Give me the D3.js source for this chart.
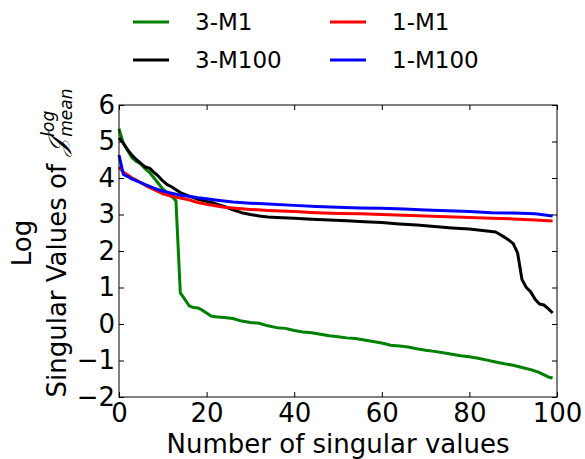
<!DOCTYPE html>
<html>
<head>
<meta charset="utf-8">
<script src="https://cdn.jsdelivr.net/npm/d3@7"></script>
<style>
  body { margin: 0; background: #fff; }
  text { font-family: "DejaVu Sans", sans-serif; }
</style>
</head>
<body>
<div id="chart"></div>
<script>
// Singular values (log), [index, value]
const green3M1 = [
  [0, 5.35], [1, 4.95], [2, 4.75], [3, 4.55], [4, 4.45], [5, 4.38], [6, 4.25],
  [7, 4.15], [8, 4.0], [9, 3.85], [10, 3.7], [11, 3.6], [12, 3.5], [13, 3.38],
  [14, 0.85], [15, 0.68], [16, 0.5], [17, 0.45], [18, 0.44], [19, 0.38],
  [20, 0.3], [21, 0.22], [22, 0.2], [24, 0.18], [26, 0.15], [28, 0.08],
  [30, 0.04], [32, 0.02], [34, -0.05], [36, -0.1], [38, -0.12], [40, -0.18],
  [42, -0.22], [44, -0.24], [46, -0.28], [48, -0.32], [50, -0.35], [52, -0.38],
  [54, -0.4], [56, -0.44], [58, -0.48], [60, -0.52], [62, -0.58], [64, -0.6],
  [66, -0.63], [68, -0.68], [70, -0.72], [72, -0.75], [74, -0.79], [76, -0.83],
  [78, -0.87], [80, -0.9], [82, -0.94], [84, -0.99], [86, -1.04], [88, -1.09],
  [90, -1.13], [92, -1.19], [94, -1.25], [96, -1.33], [98, -1.45], [99, -1.48]
];
const black3M100 = [
  [0, 5.1], [1, 4.95], [2, 4.77], [3, 4.62], [4, 4.5], [5, 4.4], [6, 4.3],
  [7, 4.27], [8, 4.15], [9, 4.05], [10, 3.92], [11, 3.82], [12, 3.76],
  [13, 3.68], [14, 3.6], [15, 3.55], [16, 3.5], [18, 3.42], [20, 3.36],
  [22, 3.3], [24, 3.22], [26, 3.13], [28, 3.05], [30, 3.0], [32, 2.96],
  [34, 2.93], [36, 2.92], [40, 2.9], [44, 2.87], [48, 2.85], [52, 2.83],
  [56, 2.8], [60, 2.78], [64, 2.74], [68, 2.71], [72, 2.67], [76, 2.63],
  [80, 2.6], [84, 2.55], [86, 2.52], [87, 2.45], [88, 2.38], [89, 2.3],
  [90, 2.2], [91, 1.95], [92, 1.22], [93, 1.0], [94, 0.88], [95, 0.68],
  [96, 0.55], [97, 0.52], [98, 0.42], [99, 0.3]
];
const red1M1 = [
  [0, 4.3], [1, 4.16], [2, 4.08], [3, 4.0], [4, 3.94], [6, 3.8], [8, 3.68],
  [10, 3.57], [12, 3.5], [14, 3.45], [16, 3.4], [18, 3.33], [20, 3.28],
  [22, 3.24], [24, 3.2], [26, 3.18], [30, 3.14], [34, 3.11], [40, 3.08],
  [45, 3.05], [50, 3.03], [55, 3.02], [60, 3.0], [65, 2.98], [70, 2.96],
  [75, 2.94], [80, 2.92], [85, 2.9], [90, 2.88], [95, 2.85], [99, 2.82]
];
const blue1M100 = [
  [0, 4.63], [1, 4.1], [2, 4.04], [3, 3.97], [4, 3.92], [6, 3.82], [8, 3.72],
  [10, 3.64], [12, 3.58], [14, 3.53], [16, 3.5], [18, 3.46], [20, 3.43],
  [22, 3.4], [24, 3.37], [26, 3.34], [30, 3.31], [34, 3.29], [40, 3.25],
  [45, 3.22], [50, 3.2], [55, 3.18], [60, 3.17], [65, 3.15], [70, 3.12],
  [75, 3.1], [80, 3.08], [85, 3.05], [90, 3.04], [95, 3.02], [99, 2.96]
];

const xTicks = [0, 20, 40, 60, 80, 100];
const yTicks = [-2, -1, 0, 1, 2, 3, 4, 5, 6];

// draw order matches the legend: 3-M1, 3-M100, 1-M1, 1-M100
const series = [
  { name: "3-M1", color: "#008000", values: green3M1 },
  { name: "3-M100", color: "#000000", values: black3M100 },
  { name: "1-M1", color: "#ff0000", values: red1M1 },
  { name: "1-M100", color: "#0000ff", values: blue1M100 }
];

const width = 585;
const height = 459;
const margin = { top: 105, right: 28, bottom: 62, left: 119 };
const plotW = width - margin.left - margin.right;
const plotH = height - margin.top - margin.bottom;

const svg = d3
  .select("#chart")
  .append("svg")
  .attr("width", width)
  .attr("height", height);

svg.append("rect").attr("width", width).attr("height", height).attr("fill", "#fff");

const x = d3.scaleLinear().domain([0, 100]).range([0, plotW]);
const y = d3.scaleLinear().domain([-2, 6]).range([plotH, 0]);

const g = svg
  .append("g")
  .attr("transform", `translate(${margin.left},${margin.top})`);

// Lines
const line = d3
  .line()
  .x((d) => x(d[0]))
  .y((d) => y(d[1]));

g.selectAll("path.series")
  .data(series)
  .enter()
  .append("path")
  .attr("class", "series")
  .attr("d", (d) => line(d.values))
  .attr("fill", "none")
  .attr("stroke", (d) => d.color)
  .attr("stroke-width", 3)
  .attr("stroke-linejoin", "round");

// Axes, ticks pointing inward on all four sides
const tickLen = 5;
const fontSize = 26;

const xAxis = g
  .append("g")
  .attr("transform", `translate(0,${plotH})`)
  .call(d3.axisBottom(x).tickValues(xTicks).tickSize(-tickLen).tickPadding(7).tickSizeOuter(0));
const xTop = g.append("g").call(d3.axisTop(x).tickValues(xTicks).tickSize(-tickLen).tickFormat(""));
const yAxis = g
  .append("g")
  .call(d3.axisLeft(y).tickValues(yTicks).tickSize(-tickLen).tickPadding(4).tickSizeOuter(0));
const yRight = g
  .append("g")
  .attr("transform", `translate(${plotW},0)`)
  .call(d3.axisRight(y).tickValues(yTicks).tickSize(-tickLen).tickFormat(""));

[xAxis, xTop, yAxis, yRight].forEach((a) => {
  a.select(".domain").remove();
  a.selectAll("line").attr("stroke", "#000").attr("stroke-width", 1);
  a.selectAll("text")
    .attr("fill", "#000")
    .attr("font-size", fontSize + "px")
    .attr("font-family", "DejaVu Sans");
});

// Frame
g.append("rect")
  .attr("width", plotW)
  .attr("height", plotH)
  .attr("fill", "none")
  .attr("stroke", "#000")
  .attr("stroke-width", 1);

// X label
svg
  .append("text")
  .attr("x", margin.left + plotW / 2)
  .attr("y", 453)
  .attr("text-anchor", "middle")
  .attr("font-size", fontSize + "px")
  .text("Number of singular values");

// Y label (two lines, rotated)
const yLab = svg.append("g").attr("transform", "translate(0,243) rotate(-90)");

yLab
  .append("text")
  .attr("x", 0)
  .attr("y", 31)
  .attr("text-anchor", "middle")
  .attr("font-size", fontSize + "px")
  .text("Log");

const line2 = yLab.append("g");
const l2 = line2
  .append("text")
  .attr("x", 0)
  .attr("y", 66)
  .attr("font-size", fontSize + "px");
l2.append("tspan").text("Singular Values of ");
l2.append("tspan")
  .attr("font-family", "DejaVu Serif")
  .attr("font-style", "italic")
  .text("\u{1D4A5}");
const baseLen = l2.node().getComputedTextLength();
line2
  .append("text")
  .attr("x", baseLen + 1)
  .attr("y", 54)
  .attr("font-size", "17px")
  .attr("font-family", "DejaVu Serif")
  .attr("font-style", "italic")
  .text("log");
line2
  .append("text")
  .attr("x", baseLen + 1)
  .attr("y", 72)
  .attr("font-size", "17px")
  .attr("font-family", "DejaVu Serif")
  .attr("font-style", "italic")
  .text("mean");
const totalLen = line2.node().getBBox().width;
line2.attr("transform", `translate(${-totalLen / 2},0)`);

// Legend, two columns above the plot
const legendFont = 23;
const legend = svg
  .append("g")
  .selectAll("g")
  .data(series)
  .enter()
  .append("g")
  .attr("transform", (d, i) => `translate(${i < 2 ? 133 : 330},${i % 2 === 0 ? 22 : 60})`);

legend
  .append("line")
  .attr("x1", 0)
  .attr("x2", 36)
  .attr("stroke", (d) => d.color)
  .attr("stroke-width", 3);

legend
  .append("text")
  .attr("x", 62)
  .attr("dy", "0.36em")
  .attr("font-size", legendFont + "px")
  .text((d) => d.name);
</script>
</body>
</html>
